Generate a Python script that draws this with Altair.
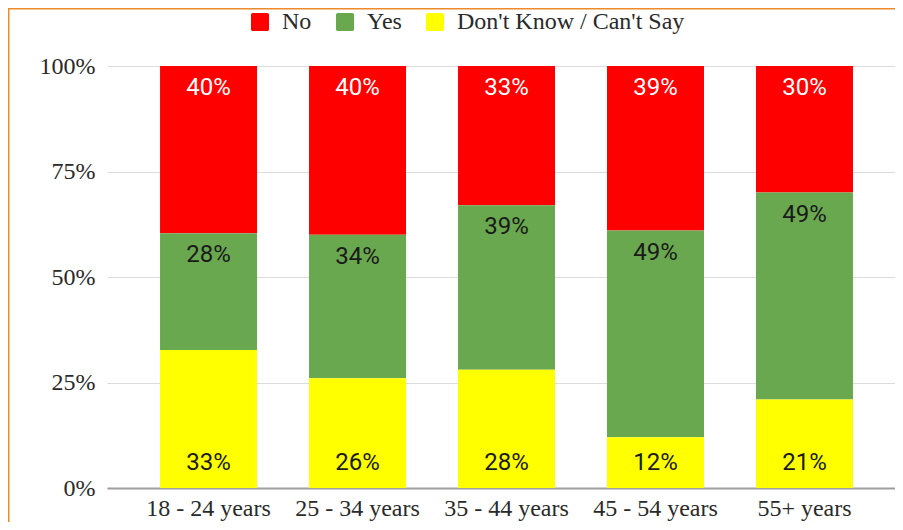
import altair as alt
import pandas as pd

ages = ["18 - 24 years", "25 - 34 years", "35 - 44 years", "45 - 54 years", "55+ years"]
categories = ["No", "Yes", "Don't Know / Can't Say"]
no_vals = [40, 40, 33, 39, 30]
yes_vals = [28, 34, 39, 49, 49]
dk_vals = [33, 26, 28, 12, 21]
colors = ["#ff0000", "#6aa84f", "#ffff00"]
text_colors = ["#ffffff", "#1a1a1a", "#1a1a1a"]
stack_order = [2, 1, 0]

rows = []
for i, a in enumerate(ages):
    for j, (cat, vals) in enumerate(zip(categories, [no_vals, yes_vals, dk_vals])):
        rows.append({"age": a, "cat": cat, "value": vals[i], "ord": stack_order[j],
                     "tcolor": text_colors[j]})
df = pd.DataFrame(rows)

SERIF = "Liberation Serif"
SANS = "Roboto"
ORANGE = "#ee8a2a"

base = alt.Chart(df).transform_stack(
    stack="value", groupby=["age"], as_=["lo", "hi"], offset="normalize",
    sort=[alt.SortField("ord", order="ascending")]
).transform_calculate(lbl="datum.value + '%'")

xenc = alt.X("age:N", sort=ages,
             scale=alt.Scale(paddingInner=0.349, paddingOuter=0.319, align=0.558),
             axis=alt.Axis(title=None, labelAngle=0, ticks=False, grid=False,
                           domainColor="#9e9e9e", domainWidth=2, labelPadding=8,
                           labelFont=SERIF, labelFontSize=24, labelColor="#2a2a2a"))

rounded = ("M-0.8,-1 H0.8 A0.2,0.2 0 0 1 1,-0.8 V0.8 A0.2,0.2 0 0 1 0.8,1 "
           "H-0.8 A0.2,0.2 0 0 1 -1,0.8 V-0.8 A0.2,0.2 0 0 1 -0.8,-1 Z")

bars = base.mark_bar().encode(
    x=xenc,
    y=alt.Y("lo:Q", scale=alt.Scale(domain=[0, 1]),
            axis=alt.Axis(title=None, format="%", values=[0, 0.25, 0.5, 0.75, 1],
                          domain=False, ticks=False, gridColor="#dcdcdc", gridWidth=1,
                          labelFont=SERIF, labelFontSize=24, labelColor="#2a2a2a",
                          labelPadding=12)),
    y2="hi:Q",
    color=alt.Color("cat:N", scale=alt.Scale(domain=categories, range=colors),
                    legend=alt.Legend(title=None, orient="none", legendX=141, legendY=-56,
                                      direction="horizontal", symbolType=rounded,
                                      symbolSize=324, symbolStrokeWidth=0,
                                      labelFont=SERIF, labelFontSize=24, labelLimit=0,
                                      labelColor="#2a2a2a", labelOffset=10,
                                      columnPadding=21, padding=0)),
)

top_text = base.transform_filter("datum.ord > 0").mark_text(
    dy=22, baseline="middle", font=SANS, fontSize=24
).encode(x=alt.X("age:N", sort=ages), y="hi:Q", text="lbl:N",
         color=alt.Color("tcolor:N", scale=None))

bottom_text = base.transform_filter("datum.ord == 0").mark_text(
    dy=-25, baseline="middle", font=SANS, fontSize=24
).encode(x=alt.X("age:N", sort=ages), y="lo:Q", text="lbl:N",
         color=alt.Color("tcolor:N", scale=None))

deco = alt.Chart(pd.DataFrame({"d": [0]}))
border_top = deco.mark_rule(color=ORANGE, strokeWidth=3).encode(
    x=alt.value(-100), x2=alt.value(900), y=alt.value(-58))
border_left = deco.mark_rule(color=ORANGE, strokeWidth=3).encode(
    x=alt.value(-99), y=alt.value(-60), y2=alt.value(600))

chart = alt.layer(bars, top_text, bottom_text, border_top, border_left).properties(
    width=788, height=422,
    autosize=alt.AutoSizeParams(type="none"),
    padding={"left": 99, "top": 58, "right": 0, "bottom": 34},
).configure_view(stroke=None)

chart.save("out.html", embed_options={"renderer": "svg", "actions": False})
